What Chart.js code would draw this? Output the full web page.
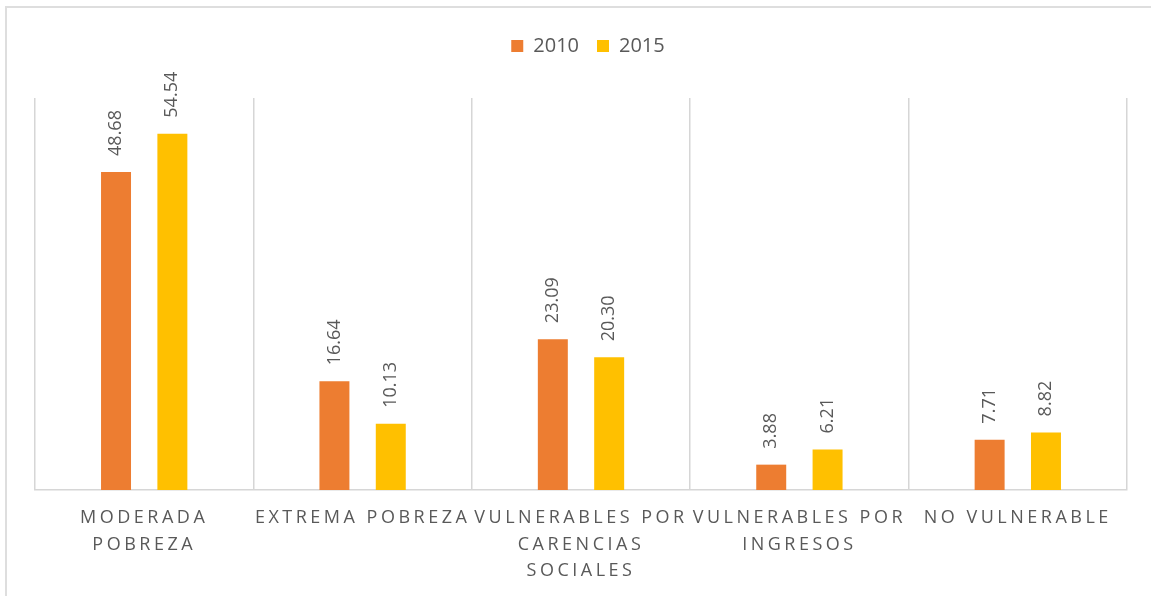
<!DOCTYPE html>
<html>
<head>
<meta charset="utf-8">
<script src="https://cdn.jsdelivr.net/npm/chart.js@4.4.1/dist/chart.umd.min.js"></script>
<style>
    html, body { margin: 0; padding: 0; background: #ffffff; }
    #wrap { position: relative; width: 1151px; height: 596px; overflow: hidden; }
    #frame { position: absolute; left: 5px; top: 6px; width: 1300px; height: 800px; border: 2px solid #dedede; }
    #chart-box { position: absolute; left: 0; top: 0; width: 1151px; height: 596px; }
</style>
</head>
<body>
<div id="wrap">
    <div id="frame"></div>
    <div id="chart-box"><canvas id="poverty-chart"></canvas></div>
</div>
<script>
// Chart data
const categories = [
    ['MODERADA', 'POBREZA'],
    ['EXTREMA POBREZA'],
    ['VULNERABLES POR', 'CARENCIAS', 'SOCIALES'],
    ['VULNERABLES POR', 'INGRESOS'],
    ['NO VULNERABLE']
];
const seriesNames = ['2010', '2015'];
const values2010 = [48.68, 16.64, 23.09, 3.88, 7.71];
const values2015 = [54.54, 10.13, 20.30, 6.21, 8.82];

const textColor = '#595959';
const gridColor = '#d6d6d6';

// Vertical value labels above each bar
const barValueLabels = {
    id: 'barValueLabels',
    afterDatasetsDraw(chart) {
        const ctx = chart.ctx;
        chart.data.datasets.forEach((ds, i) => {
            chart.getDatasetMeta(i).data.forEach((bar, j) => {
                ctx.save();
                ctx.translate(bar.x, bar.y - 16);
                ctx.rotate(-Math.PI / 2);
                ctx.font = '18px "Open Sans"';
                ctx.fillStyle = textColor;
                ctx.textAlign = 'left';
                ctx.textBaseline = 'middle';
                ctx.fillText(ds.data[j].toFixed(2), 0, 0);
                ctx.restore();
            });
        });
    }
};

// Extra room below the legend, legend nudge, letter spacing on category labels
const layoutTweaks = {
    id: 'layoutTweaks',
    beforeLayout(chart) {
        const lg = chart.legend;
        if (lg && !lg._tweaked) {
            const fit = lg.fit;
            lg.fit = function() {
                fit.call(this);
                this.height += 32;
            };
            const draw = lg.draw;
            lg.draw = function() {
                this.ctx.save();
                this.ctx.translate(7, 0);
                draw.call(this);
                this.ctx.restore();
            };
            lg._tweaked = true;
        }
    },
    beforeDraw(chart) {
        const xs = chart.scales.x;
        if (xs && !xs._spaced) {
            const drawLabels = xs.drawLabels;
            xs.drawLabels = function(area) {
                const ctx = this.ctx;
                ctx.save();
                ctx.letterSpacing = '3.5px';
                drawLabels.call(this, area);
                ctx.restore();
            };
            xs._spaced = true;
        }
    }
};

const ctx = document.getElementById('poverty-chart');
new Chart(ctx, {
    type: 'bar',
    data: {
        labels: categories,
        datasets: [
            {
                label: seriesNames[0],
                data: values2010,
                backgroundColor: '#ed7d31',
                borderWidth: 0
            },
            {
                label: seriesNames[1],
                data: values2015,
                backgroundColor: '#ffc000',
                borderWidth: 0
            }
        ]
    },
    options: {
        responsive: true,
        maintainAspectRatio: false,
        animation: false,
        datasets: {
            bar: {
                categoryPercentage: 0.516,
                barPercentage: 0.532
            }
        },
        layout: {
            padding: { left: 35, right: 24, top: 18, bottom: 0 }
        },
        scales: {
            x: {
                grid: {
                    color: gridColor,
                    lineWidth: 1.5,
                    drawTicks: false
                },
                border: {
                    color: gridColor,
                    width: 1.5
                },
                ticks: {
                    color: textColor,
                    padding: 15,
                    autoSkip: false,
                    maxRotation: 0,
                    font: { family: 'Open Sans', size: 18, lineHeight: 1.46 }
                },
                afterFit(scale) {
                    scale.height = 106;
                }
            },
            y: {
                display: false,
                min: 0,
                max: 60
            }
        },
        plugins: {
            legend: {
                display: true,
                position: 'top',
                labels: {
                    color: textColor,
                    boxWidth: 12,
                    boxHeight: 12,
                    padding: 18,
                    font: { family: 'Open Sans', size: 20 }
                }
            },
            tooltip: { enabled: false }
        }
    },
    plugins: [barValueLabels, layoutTweaks]
});
</script>
</body>
</html>
